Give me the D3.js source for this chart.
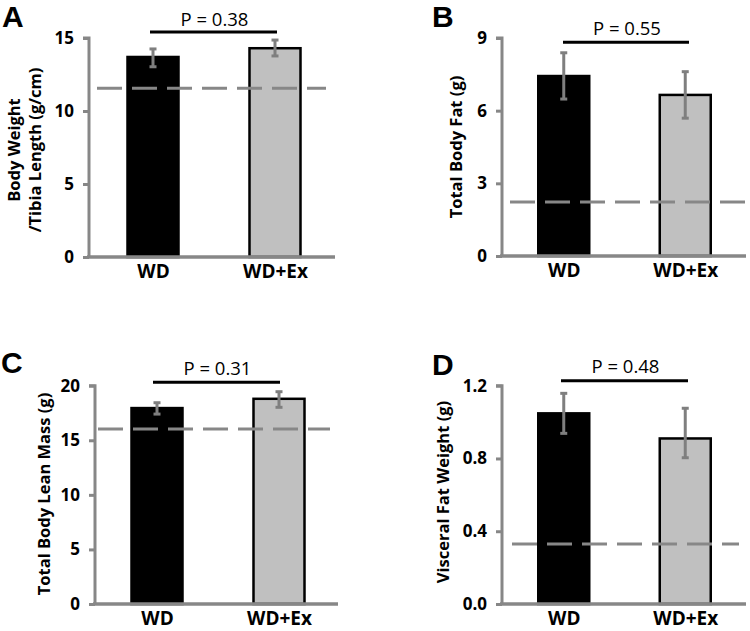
<!DOCTYPE html>
<html>
<head>
<meta charset="utf-8">
<script src="https://cdn.jsdelivr.net/npm/d3@7"></script>
<style>
  html, body { margin: 0; padding: 0; background: #fff; }
  svg { display: block; }
</style>
</head>
<body>
<svg id="chart" width="750" height="631"></svg>
<script>
// ---- Data ----
const categories = ["WD", "WD+Ex"];
const panelLetters = ["A", "B", "C", "D"];
const yTitles = [["Body Weight", "/Tibia Length (g/cm)"], ["Total Body Fat (g)"], ["Total Body Lean Mass (g)"], ["Visceral Fat Weight (g)"]];
const pLabels = ["P = 0.38", "P = 0.55", "P = 0.31", "P = 0.48"];
const yMax = [15, 9, 20, 1.2];
const yTicks = [[0, 5, 10, 15], [0, 3, 6, 9], [0, 5, 10, 15, 20], [0, 0.4, 0.8, 1.2]];
const tickFormats = ["d", "d", "d", ".1f"];
const meanA = [13.7, 14.3];
const meanB = [7.43, 6.65];
const meanC = [17.95, 18.8];
const meanD = [1.048, 0.91];
const errHiA = [14.25, 14.86], errLoA = [13.03, 13.77];
const errHiB = [8.39, 7.61],   errLoB = [6.48, 5.69];
const errHiC = [18.44, 19.45], errLoC = [17.4, 18.02];
const errHiD = [1.158, 1.076], errLoD = [0.938, 0.804];
const refLine = [11.55, 2.23, 16.03, 0.33];   // dashed reference level

const means = [meanA, meanB, meanC, meanD];
const errHi = [errHiA, errHiB, errHiC, errHiD];
const errLo = [errLoA, errLoB, errLoC, errLoD];

// ---- Layout (pixels) ----
const layout = [
  { axisX: 89,  xEnd: 335, y0: 257, y1: 38,    band: [92, 336],  letter: [2, 27],   title: [24, 150], dash: [97, 326],  pbar: 32,    pText: 26 },
  { axisX: 502, xEnd: 746, y0: 256, y1: 38,    band: [503, 746], letter: [432, 27], title: [455, 147], dash: [510, 747], pbar: 42.3,  pText: 35 },
  { axisX: 95,  xEnd: 338, y0: 604, y1: 385.7, band: [96, 340],  letter: [1, 373],  title: [43, 494], dash: [98, 330],  pbar: 382.3, pText: 375 },
  { axisX: 502, xEnd: 746, y0: 604, y1: 385.7, band: [503, 746], letter: [432, 375], title: [442, 492], dash: [512, 739], pbar: 380.7, pText: 373 }
];
const pbarX = [[150, 277], [563, 689], [153, 280], [561, 688]];

const axisColor = "#878787";
const errColor = "#7f7f7f";
const font = "'Open Sans', Lato, sans-serif";

const svg = d3.select("#chart");

layout.forEach((L, i) => {
  const g = svg.append("g");
  const y = d3.scaleLinear().domain([0, yMax[i]]).range([L.y0, L.y1]);
  const x = d3.scalePoint().domain(categories).range(L.band).padding(0.5);
  const bw = 51;

  // Panel letter
  g.append("text").attr("x", L.letter[0]).attr("y", L.letter[1])
    .attr("font-family", "'Liberation Sans', Arial, sans-serif").attr("font-weight", "bold")
    .attr("font-size", 30).attr("fill", "#000").text(panelLetters[i]);

  // Y axis title
  const lines = yTitles[i];
  const tg = g.append("g").attr("transform", `translate(${L.title[0]},${L.title[1]}) rotate(-90)`);
  lines.forEach((t, k) => {
    tg.append("text").attr("x", 0).attr("y", (k - (lines.length - 1) / 2) * 20.5)
      .attr("text-anchor", "middle").attr("dominant-baseline", "central")
      .attr("font-family", font).attr("font-weight", "bold").attr("font-size", 16.5)
      .attr("fill", "#000").text(t);
  });

  // Bars
  g.selectAll("rect.bar").data(categories).enter().append("rect")
    .attr("x", d => x(d) - bw / 2)
    .attr("y", (d, j) => y(means[i][j]))
    .attr("width", bw)
    .attr("height", (d, j) => y(0) - y(means[i][j]))
    .attr("fill", (d, j) => j === 0 ? "#000" : "#c0c0c0")
    .attr("stroke", "#000").attr("stroke-width", 2.5);

  // Dashed reference line
  g.append("line").attr("x1", L.dash[0]).attr("x2", L.dash[1])
    .attr("y1", y(refLine[i])).attr("y2", y(refLine[i]))
    .attr("stroke", axisColor).attr("stroke-width", 3)
    .attr("stroke-dasharray", "25,10");

  // Error bars
  categories.forEach((c, j) => {
    const cx = x(c);
    g.append("line").attr("x1", cx).attr("x2", cx)
      .attr("y1", y(errHi[i][j])).attr("y2", y(errLo[i][j]))
      .attr("stroke", errColor).attr("stroke-width", 3);
    [errHi[i][j], errLo[i][j]].forEach(v => {
      g.append("line").attr("x1", cx - 3.5).attr("x2", cx + 3.5)
        .attr("y1", y(v)).attr("y2", y(v))
        .attr("stroke", errColor).attr("stroke-width", 3);
    });
  });

  // Axes
  const yAxis = d3.axisLeft(y).tickValues(yTicks[i]).tickFormat(d3.format(tickFormats[i]))
    .tickSize(6).tickPadding(9);
  const ax = g.append("g").attr("transform", `translate(${L.axisX},0)`).call(yAxis);
  ax.select(".domain").attr("stroke", axisColor).attr("stroke-width", 3)
    .attr("d", `M-6,${L.y1}H0V${L.y0}`);
  ax.selectAll(".tick line").attr("stroke", axisColor).attr("stroke-width", 3);
  ax.selectAll(".tick text").attr("font-family", font).attr("font-weight", "bold")
    .attr("font-size", 17).attr("fill", "#000");

  g.append("line").attr("x1", L.axisX - 2).attr("x2", L.xEnd)
    .attr("y1", y(0)).attr("y2", y(0))
    .attr("stroke", axisColor).attr("stroke-width", 3.5);

  // X labels
  const xAxis = d3.axisBottom(x).tickSize(0).tickPadding(8);
  const xa = g.append("g").attr("transform", `translate(0,${y(0)})`).call(xAxis);
  xa.select(".domain").remove();
  xa.selectAll(".tick text").attr("font-family", font).attr("font-weight", "bold")
    .attr("font-size", 19).attr("fill", "#000");

  // P-value bracket
  g.append("line").attr("x1", pbarX[i][0]).attr("x2", pbarX[i][1])
    .attr("y1", L.pbar).attr("y2", L.pbar)
    .attr("stroke", "#000").attr("stroke-width", 3);
  g.append("text").attr("x", (pbarX[i][0] + pbarX[i][1]) / 2 + 1).attr("y", L.pText)
    .attr("text-anchor", "middle").attr("font-family", font).attr("font-size", 18.5)
    .attr("fill", "#000").text(pLabels[i]);
});
</script>
</body>
</html>
